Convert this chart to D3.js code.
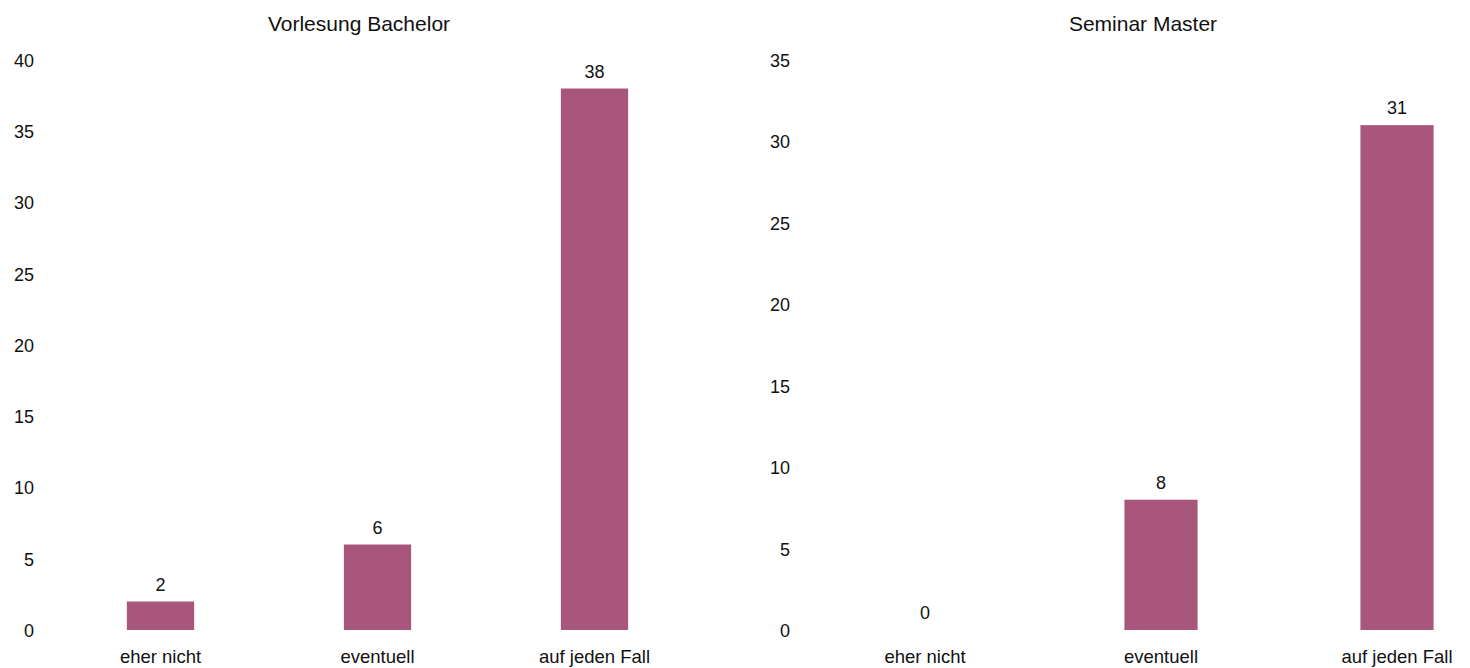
<!DOCTYPE html>
<html>
<head>
<meta charset="utf-8">
<script src="https://cdn.jsdelivr.net/npm/d3@7/dist/d3.min.js"></script>
<style>
  html, body { margin: 0; padding: 0; background: #fff; }
  svg { display: block; }
  text { font-family: "Liberation Sans", Arial, sans-serif; fill: #111; }
</style>
</head>
<body>
<svg id="chart" width="1470" height="668"></svg>
<script>
// Answer categories shared by both panels
const categories = ["eher nicht", "eventuell", "auf jeden Fall"];

// Counts per panel
const bachelorValues = [2, 6, 38];
const masterValues = [0, 8, 31];

// Panel titles and y-axis ticks
const bachelorTitle = "Vorlesung Bachelor";
const masterTitle = "Seminar Master";
const bachelorTicks = [0, 5, 10, 15, 20, 25, 30, 35, 40];
const masterTicks = [0, 5, 10, 15, 20, 25, 30, 35];

const barColor = "#a8567c";
const svg = d3.select("#chart");

function drawPanel(cfg) {
  const g = svg.append("g");

  const x = d3.scaleBand()
    .domain(categories)
    .range([cfg.x0, cfg.x1])
    .paddingInner(0.69)
    .paddingOuter(0.345);

  const y = d3.scaleLinear()
    .domain([0, cfg.max])
    .range([630, 60]);

  // y-axis: labels only, no line or tick marks
  const yAxis = d3.axisLeft(y).tickValues(cfg.ticks).tickSize(0).tickPadding(0);
  const ya = g.append("g")
    .attr("transform", `translate(${cfg.axisX},0)`)
    .call(yAxis);
  ya.select(".domain").remove();
  ya.selectAll("text")
    .style("font-family", "'Liberation Sans', Arial, sans-serif")
    .style("font-size", "18px")
    .attr("fill", "#111")
    .attr("dy", "0.36em");

  // bars
  g.selectAll("rect.bar")
    .data(cfg.values)
    .join("rect")
    .attr("class", "bar")
    .attr("x", (d, i) => x(categories[i]))
    .attr("width", x.bandwidth())
    .attr("y", d => y(d))
    .attr("height", d => y(0) - y(d))
    .attr("fill", barColor);

  // value labels above bars
  g.selectAll("text.val")
    .data(cfg.values)
    .join("text")
    .attr("class", "val")
    .attr("x", (d, i) => x(categories[i]) + x.bandwidth() / 2)
    .attr("y", d => y(d) - 11)
    .attr("text-anchor", "middle")
    .style("font-size", "18px")
    .text(d => d);

  // x-axis category labels
  const xAxis = d3.axisBottom(x).tickSize(0).tickPadding(0);
  const xa = g.append("g")
    .attr("transform", "translate(0,650)")
    .call(xAxis);
  xa.select(".domain").remove();
  xa.selectAll("text")
    .style("font-family", "'Liberation Sans', Arial, sans-serif")
    .style("font-size", "18.5px")
    .attr("fill", "#111")
    .attr("dy", "0.7em");

  // panel title
  g.append("text")
    .attr("x", cfg.titleX)
    .attr("y", 31)
    .attr("text-anchor", "middle")
    .style("font-size", "21px")
    .text(cfg.title);
}

drawPanel({
  values: bachelorValues, ticks: bachelorTicks, max: 40,
  x0: 52, x1: 703, axisX: 34, title: bachelorTitle, titleX: 359
});

drawPanel({
  values: masterValues, ticks: masterTicks, max: 35,
  x0: 807, x1: 1515, axisX: 790, title: masterTitle, titleX: 1143
});
</script>
</body>
</html>
